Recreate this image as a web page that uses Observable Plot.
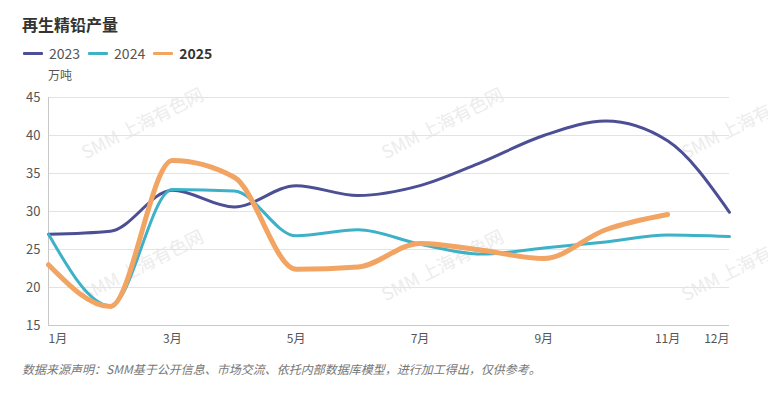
<!DOCTYPE html>
<html>
<head>
<meta charset="utf-8">
<script src="https://cdn.jsdelivr.net/npm/d3@7"></script>
<script src="https://cdn.jsdelivr.net/npm/@observablehq/plot@0.6"></script>
<style>
  body { margin:0; width:768px; height:394px; position:relative; overflow:hidden; background:#fff;
         font-family:"Noto Sans CJK SC","Noto Sans",sans-serif; }
  .abs { position:absolute; }
  #title { left:22px; top:12px; font-size:16px; font-weight:bold; color:#333; z-index:2; }
  #legend { left:23px; top:43px; font-size:14px; color:#555; display:flex; align-items:center; z-index:2; }
  .item { display:flex; align-items:center; margin-right:8px; }
  .sw { width:20px; height:3px; margin-right:6px; border-radius:1px; }
  #unit { left:48px; top:66px; font-size:12px; color:#555; z-index:2; }
  #wmlayer { left:0; top:0; width:768px; height:394px; overflow:hidden; z-index:0; }
  #chart { left:0; top:85px; z-index:1; }
  #caption { left:22px; top:360px; font-size:12px; color:#777; font-style:italic; z-index:2; }
  .wm { position:absolute; font-size:18px; color:#ececec; transform:rotate(-27deg); transform-origin:left bottom; white-space:nowrap; pointer-events:none; }
</style>
</head>
<body>
<div id="wmlayer" class="abs"></div>
<div id="title" class="abs">再生精铅产量</div>
<div id="legend" class="abs"></div>
<div id="unit" class="abs">万吨</div>
<div id="chart" class="abs"></div>
<div id="caption" class="abs">数据来源声明：SMM基于公开信息、市场交流、依托内部数据库模型，进行加工得出，仅供参考。</div>
<script>
const months = [1,2,3,4,5,6,7,8,9,10,11,12];
const v2023 = [27.0, 27.4, 32.8, 30.6, 33.4, 32.1, 33.4, 36.5, 40.0, 41.9, 39.3, 29.9];
const v2024 = [27.0, 17.6, 32.9, 32.7, 26.8, 27.6, 25.7, 24.4, 25.2, 26.0, 26.9, 26.7];
const v2025 = [23.0, 17.5, 36.7, 34.5, 22.4, 22.7, 25.8, 24.9, 23.8, 27.6, 29.6];
const seriesNames = ["2023", "2024", "2025"];
const seriesColors = ["#4c4f95", "#3db1c8", "#f2a463"];
const seriesWidths = [3, 3, 5];
const yTicks = [15, 20, 25, 30, 35, 40, 45];
const xTicksMid = [3, 5, 7, 9, 11];
const monthLabel = m => m + "月";

// legend
const legend = document.getElementById("legend");
seriesNames.forEach((n, i) => {
  const it = document.createElement("div"); it.className = "item";
  const sw = document.createElement("div"); sw.className = "sw"; sw.style.background = seriesColors[i];
  const tx = document.createElement("span"); tx.textContent = n;
  if (i === 2) { tx.style.fontWeight = "bold"; tx.style.color = "#333"; }
  it.appendChild(sw); it.appendChild(tx); legend.appendChild(it);
});

// watermarks (background layer)
const wm = document.getElementById("wmlayer");
[[88,138],[88,280],[388,138],[388,280],[688,138],[688,280]].forEach(([l,t]) => {
  const d = document.createElement("div"); d.className = "wm"; d.textContent = "SMM 上海有色网";
  d.style.left = l + "px"; d.style.top = t + "px"; wm.appendChild(d);
});

const data = [
  ...v2023.map((v, i) => ({series: "2023", month: months[i], value: v})),
  ...v2024.map((v, i) => ({series: "2024", month: months[i], value: v})),
  ...v2025.map((v, i) => ({series: "2025", month: months[i], value: v}))
];

const font = "Noto Sans CJK SC, Noto Sans, sans-serif";
const chart = Plot.plot({
  width: 768,
  height: 270,
  marginLeft: 48,
  marginRight: 39,
  marginTop: 12,
  marginBottom: 30,
  style: { fontFamily: font, fontSize: "12px", color: "#555", background: "transparent" },
  x: { domain: [1, 12] },
  y: { domain: [15, 45] },
  marks: [
    Plot.gridY(yTicks.filter(t => t > 15), { stroke: "#e3e3e3", strokeOpacity: 1 }),
    Plot.ruleY([15], { stroke: "#c8c8c8" }),
    Plot.ruleX([1], { stroke: "#c8c8c8" }),
    Plot.axisY(yTicks, { tickSize: 0, tickPadding: 8, label: null, fontSize: 13, fill: "#555" }),
    Plot.axisX(xTicksMid, { tickSize: 0, tickPadding: 9, tickFormat: monthLabel, label: null, fill: "#555" }),
    Plot.axisX([1], { tickSize: 0, tickPadding: 9, tickFormat: monthLabel, label: null, textAnchor: "start", fill: "#555" }),
    Plot.axisX([12], { tickSize: 0, tickPadding: 9, tickFormat: monthLabel, label: null, textAnchor: "end", fill: "#555" }),
    ...seriesNames.map((s, i) => Plot.line(data.filter(d => d.series === s), {
      x: "month", y: "value", stroke: seriesColors[i], strokeWidth: seriesWidths[i],
      curve: "monotone-x", strokeLinecap: "round", strokeLinejoin: "round"
    }))
  ]
});
document.getElementById("chart").appendChild(chart);
</script>
</body>
</html>
